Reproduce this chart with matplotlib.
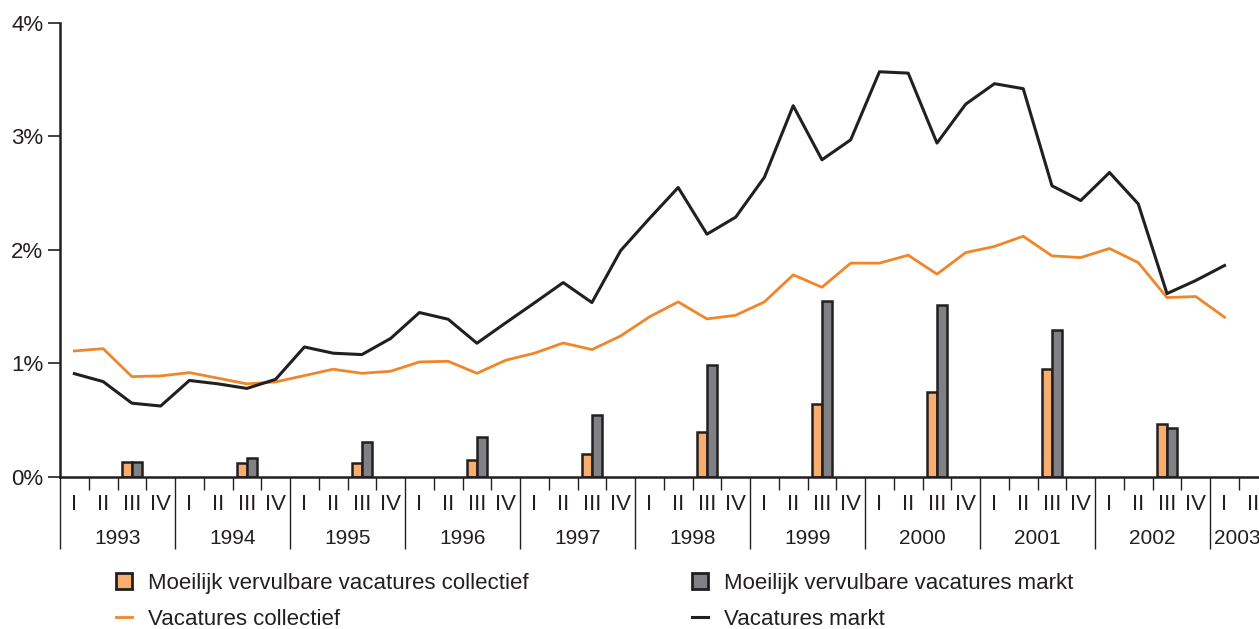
import numpy as np
import matplotlib.pyplot as plt
import matplotlib.transforms as mtransforms
from matplotlib.patches import Patch
from matplotlib.lines import Line2D

plt.rcParams["font.family"] = ["Liberation Sans", "DejaVu Sans"]

years = [str(y) for y in range(1993, 2004)]
quarters = ["I", "II", "III", "IV"]

# Vacatures markt / collectief, one value per quarter from 1993-I to 2003-I
vac_markt = [0.91, 0.84, 0.65, 0.625, 0.85, 0.82, 0.78, 0.86,
             1.145, 1.09, 1.078, 1.22, 1.448, 1.389, 1.178, 1.357,
             1.533, 1.712, 1.536, 1.994, 2.276, 2.549, 2.138, 2.288,
             2.64, 3.269, 2.793, 2.969, 3.568, 3.556, 2.94, 3.283,
             3.463, 3.419, 2.564, 2.434, 2.681, 2.405, 1.615, 1.73, 1.862]
vac_coll = [1.11, 1.13, 0.884, 0.89, 0.919, 0.87, 0.82, 0.837,
            0.893, 0.949, 0.913, 0.931, 1.013, 1.019, 0.913, 1.028,
            1.09, 1.18, 1.122, 1.242, 1.41, 1.542, 1.392, 1.424,
            1.542, 1.78, 1.671, 1.883, 1.883, 1.953, 1.786, 1.976,
            2.03, 2.12, 1.947, 1.932, 2.012, 1.888, 1.58, 1.589, 1.407]

# Moeilijk vervulbare vacatures, third quarter of 1993..2002
mv_years = years[:10]
mv_coll = [0.132, 0.12, 0.12, 0.15, 0.20, 0.40, 0.643, 0.752, 0.952, 0.464]
mv_markt = [0.132, 0.17, 0.308, 0.35, 0.549, 0.987, 1.55, 1.515, 1.295, 0.435]

ORANGE_LINE = "#F0862A"
ORANGE_BAR = "#F8AE6E"
GREY_BAR = "#808184"
BLACK = "#231F20"

fig = plt.figure(figsize=(12.59, 6.29), dpi=100)
ax = fig.add_axes([60 / 1259, 1 - 477 / 629, 1 - 60 / 1259, (477 - 22.7) / 629])

xq = np.arange(len(vac_markt))
xb = np.array([years.index(y) * 4 + 2 for y in mv_years])
w = 0.36

ax.bar(xb - w / 2, mv_coll, w, color=ORANGE_BAR, edgecolor=BLACK, linewidth=1.8, zorder=2)
ax.bar(xb + w / 2, mv_markt, w, color=GREY_BAR, edgecolor=BLACK, linewidth=1.8, zorder=2)
ax.plot(xq, vac_coll, color=ORANGE_LINE, lw=2.0, zorder=3)
ax.plot(xq, vac_markt, color=BLACK, lw=2.2, zorder=4)

for s in ["top", "right"]:
    ax.spines[s].set_visible(False)
ax.spines["left"].set_linewidth(1.8)
ax.spines["bottom"].set_linewidth(1.8)
ax.spines["left"].set_color(BLACK)
ax.spines["bottom"].set_color(BLACK)

ax.set_yticks(range(5))
ax.set_yticklabels([f"{v}%" for v in range(5)], fontsize=16, color=BLACK)
ax.tick_params(axis="y", length=9, width=1.2, pad=3, color=BLACK)

# year separators as major ticks, quarter boundaries as minor ticks
ax.set_xticks(np.arange(len(years)) * 4 - 0.5)
ax.set_xticks(np.arange(len(years) * 4 - 2) - 0.5, minor=True)
ax.set_xticklabels([])
ax.tick_params(axis="x", which="major", length=52, width=1.0, color=BLACK)
ax.tick_params(axis="x", which="minor", length=9.5, width=1.0, color=BLACK)

ax.set_xlim(-0.5, 41.2)
ax.set_ylim(0, 4)

trans = mtransforms.blended_transform_factory(ax.transData, fig.transFigure)
for i, yr in enumerate(years):
    for j, q in enumerate(quarters):
        ax.text(i * 4 + j, 1 - 505 / 629, q, transform=trans, ha="center",
                va="center", fontsize=16, color=BLACK, clip_on=False)
    if i < len(years) - 1:
        ax.text(i * 4 + 1.5, 1 - 538 / 629, yr, transform=trans, ha="center",
                va="center", fontsize=15, color=BLACK, clip_on=False)
    else:
        ax.text(i * 4 - 0.38, 1 - 538 / 629, yr, transform=trans, ha="left",
                va="center", fontsize=15, color=BLACK, clip_on=False)

handles = [
    Patch(facecolor=ORANGE_BAR, edgecolor=BLACK, linewidth=2.0),
    Line2D([], [], color=ORANGE_LINE, lw=2.0),
    Patch(facecolor=GREY_BAR, edgecolor=BLACK, linewidth=2.0),
    Line2D([], [], color=BLACK, lw=2.2),
]
labels = ["Moeilijk vervulbare vacatures collectief", "Vacatures collectief",
          "Moeilijk vervulbare vacatures markt", "Vacatures markt"]
fig.legend(handles, labels, ncol=2, loc="upper left",
           bbox_to_anchor=(116 / 1259, 1 - 573 / 629), frameon=False,
           fontsize=16, handlelength=0.72, handleheight=0.72,
           handletextpad=0.72, columnspacing=7.35, labelspacing=0.68,
           borderpad=0, borderaxespad=0, labelcolor=BLACK)

fig.savefig("out.png", dpi=100)
